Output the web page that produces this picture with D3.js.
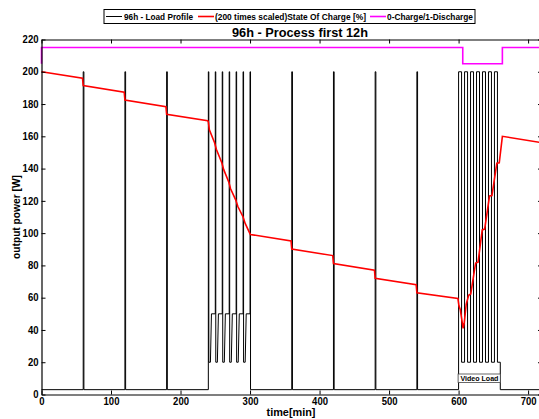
<!DOCTYPE html>
<html>
<head>
<meta charset="utf-8">
<script src="https://cdn.jsdelivr.net/npm/d3@7"></script>
<style>
  body { margin: 0; background: #fff; }
  text { font-family: "Liberation Sans", Arial, Helvetica, sans-serif; font-weight: bold; fill: #000; }
</style>
</head>
<body>
<div id="chart"></div>
<script>
// load profile breakpoints (time [min], power [W])
var loadTime = [0, 60, 60, 61, 61, 120, 120, 121, 121, 180, 180, 181, 181, 240,
  240, 240.7, 240.7, 243, 244.5, 250,
  250, 250.7, 250.7, 253, 254.5, 260,
  260, 260.7, 260.7, 263, 264.5, 270,
  270, 270.7, 270.7, 273, 274.5, 280,
  280, 280.7, 280.7, 283, 284.5, 290,
  290, 290.7, 290.7, 293, 294.5, 300,
  300, 300.7, 300.7,
  360, 360, 361, 361, 420, 420, 421, 421, 480, 480, 481, 481, 540, 540, 541, 541,
  600, 600, 604.3, 604.3, 608.6, 608.6, 612.9, 612.9, 617.2, 617.2, 621.5, 621.5,
  625.8, 625.8, 630.1, 630.1, 634.4, 634.4, 638.7, 638.7, 643, 643, 647.3, 647.3,
  651.6, 651.6, 655.9, 655.9, 660, 660, 720];
var loadPower = [3, 3, 200, 200, 3, 3, 200, 200, 3, 3, 200, 200, 3, 3,
  200, 200, 20, 20, 50, 50,
  200, 200, 20, 20, 50, 50,
  200, 200, 20, 20, 50, 50,
  200, 200, 20, 20, 50, 50,
  200, 200, 20, 20, 50, 50,
  200, 200, 20, 20, 50, 50,
  200, 200, 3,
  3, 200, 200, 3, 3, 200, 200, 3, 3, 200, 200, 3, 3, 200, 200, 3,
  3, 200, 200, 20, 20, 200, 200, 20, 20, 200, 200, 20,
  20, 200, 200, 20, 20, 200, 200, 20, 20, 200, 200, 20,
  20, 200, 200, 20, 20, 3, 3];

// state of charge, 200 times scaled
var socTime = [0, 59, 60, 119, 120, 179, 180, 239, 240, 241.5, 249, 251.5, 259.5, 262,
  269.5, 272, 279.5, 282.5, 290, 293, 299.5, 300.5, 359, 360, 419, 420, 479, 480,
  539, 540, 599, 600.5, 602.5, 606.5, 608, 611, 614.5, 617.5, 624.5, 628, 634,
  637.5, 644.5, 648, 655, 658.5, 663, 720];
var socValue = [200, 196, 191.5, 187.3, 182.5, 178.3, 173.6, 169.6, 169, 164, 156, 152,
  143.5, 139.5, 131.5, 127.5, 120.5, 116.5, 110, 106, 100, 99.2, 95.2, 90.2, 86.1,
  81.1, 77, 72, 68, 63, 59.5, 55, 52.5, 41, 44, 56, 61.5, 62.3, 81.5, 82, 102,
  102.5, 123, 123.3, 143.3, 143.6, 160, 156];

// charge / discharge flag as plotted
var modeTime = [0, 0, 606, 606, 663, 663, 720];
var modeValue = [205, 215, 215, 205, 205, 215, 215];

var xTicks = [0, 100, 200, 300, 400, 500, 600, 700];
var yTicks = [0, 20, 40, 60, 80, 100, 120, 140, 160, 180, 200, 220];
var legendLabels = ["96h - Load Profile", "(200 times scaled)State Of Charge [%]", "0-Charge/1-Discharge"];
var seriesColors = ["#000000", "#ff0000", "#ff00ff"];

var W = 539, H = 419;
var mLeft = 41.5, mRight = 542, mTop = 39.5, mBottom = 394.5;

var svg = d3.select("#chart").append("svg")
    .attr("width", W)
    .attr("height", H);

var x = d3.scaleLinear().domain([0, 720]).range([mLeft, mRight]);
var y = d3.scaleLinear().domain([0, 220]).range([mBottom, mTop]);

function fit(sel, len) {
  sel.attr("textLength", len).attr("lengthAdjust", "spacingAndGlyphs");
}

var line = d3.line()
    .x(function(d){ return x(d[0]); })
    .y(function(d){ return y(d[1]); });

var plot = svg.append("g");

plot.append("path")
    .datum(loadTime.map(function(t, i){ return [t, loadPower[i]]; }))
    .attr("d", line)
    .attr("fill", "none")
    .attr("stroke", seriesColors[0])
    .attr("stroke-width", 1);

plot.append("path")
    .datum(socTime.map(function(t, i){ return [t, socValue[i]]; }))
    .attr("d", line)
    .attr("fill", "none")
    .attr("stroke", seriesColors[1])
    .attr("stroke-width", 1.6);

plot.append("path")
    .datum(modeTime.map(function(t, i){ return [t, modeValue[i]]; }))
    .attr("d", line)
    .attr("fill", "none")
    .attr("stroke", seriesColors[2])
    .attr("stroke-width", 1.6);

// axes, ticks pointing inwards like matlab
var xb = svg.append("g").attr("transform", "translate(0," + mBottom + ")")
    .call(d3.axisBottom(x).tickValues(xTicks).tickSizeInner(-4).tickSizeOuter(0).tickPadding(5).tickFormat(d3.format("d")));
var xt = svg.append("g").attr("transform", "translate(0," + mTop + ")")
    .call(d3.axisTop(x).tickValues(xTicks).tickSizeInner(-4).tickSizeOuter(0).tickFormat(""));
var yl = svg.append("g").attr("transform", "translate(" + mLeft + ",0)")
    .call(d3.axisLeft(y).tickValues(yTicks).tickSizeInner(-4).tickSizeOuter(0).tickPadding(3).tickFormat(d3.format("d")));
var yr = svg.append("g").attr("transform", "translate(" + mRight + ",0)")
    .call(d3.axisRight(y).tickValues(yTicks).tickSizeInner(-4).tickSizeOuter(0).tickFormat(""));

[xb, xt, yl, yr].forEach(function(g){
  g.select(".domain").attr("stroke", "#000").attr("stroke-width", 1.2);
  g.selectAll(".tick line").attr("stroke", "#000");
});
svg.selectAll(".tick text")
    .attr("font-size", 10)
    .attr("font-weight", "bold")
    .style("font-family", "'Liberation Sans', Arial, sans-serif")
    .each(function(d){
      d3.select(this).call(fit, String(d).length * 5.3);
    });
xb.selectAll(".tick text").attr("dy", "0.5em");

// titles
svg.append("text")
    .attr("x", 300).attr("y", 36.5)
    .attr("text-anchor", "middle")
    .attr("font-size", 13)
    .text("96h - Process first 12h")
    .call(fit, 136);

svg.append("text")
    .attr("x", 291).attr("y", 415.5)
    .attr("text-anchor", "middle")
    .attr("font-size", 11)
    .text("time[min]")
    .call(fit, 49);

svg.append("text")
    .attr("transform", "translate(19.5,217) rotate(-90)")
    .attr("text-anchor", "middle")
    .attr("font-size", 11)
    .text("output power [W]")
    .call(fit, 84);

// legend
var legend = svg.append("g");
legend.append("rect")
    .attr("x", 104).attr("y", 9.5)
    .attr("width", 371).attr("height", 14)
    .attr("fill", "#fff")
    .attr("stroke", "#000")
    .attr("stroke-width", 1);

var legendPos = [
  {lx: 106, tx: 124, len: 69},
  {lx: 198, tx: 215, len: 151},
  {lx: 370, tx: 387, len: 86}
];
legendLabels.forEach(function(lab, i){
  var p = legendPos[i];
  legend.append("line")
      .attr("x1", p.lx).attr("x2", p.lx + 16)
      .attr("y1", 16.5).attr("y2", 16.5)
      .attr("stroke", seriesColors[i])
      .attr("stroke-width", i == 0 ? 1 : 1.6);
  legend.append("text")
      .attr("x", p.tx).attr("y", 20)
      .attr("font-size", 9.5)
      .text(lab)
      .call(fit, p.len);
});

// video load annotation
svg.append("rect")
    .attr("x", x(600) - 0.5).attr("y", 374)
    .attr("width", x(660) - x(600) + 0.5).attr("height", 8.5)
    .attr("fill", "#fff")
    .attr("stroke", "#444")
    .attr("stroke-width", 0.8);
svg.append("text")
    .attr("x", (x(600) + x(660)) / 2).attr("y", 381.3)
    .attr("text-anchor", "middle")
    .attr("font-size", 8)
    .text("Video Load")
    .call(fit, 38);
</script>
</body>
</html>
